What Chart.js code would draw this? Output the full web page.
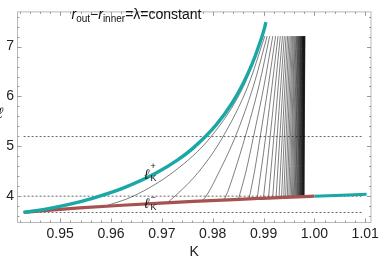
<!DOCTYPE html>
<html><head><meta charset="utf-8">
<script src="https://cdn.jsdelivr.net/npm/chart.js@4.4.1/dist/chart.umd.min.js"></script>
<style>html,body{margin:0;padding:0;background:#fff;overflow:hidden}#wrap{width:382px;height:261px}</style>
</head><body><div id="wrap"><canvas id="c" width="382" height="261"></canvas></div>
<script>
// ---- axis ticks ----
const xTicks = [0.95, 0.96, 0.97, 0.98, 0.99, 1.00, 1.01];
const xTickLabels = ["0.95", "0.96", "0.97", "0.98", "0.99", "1.00", "1.01"];
const yTicks = [4, 5, 6, 7];
const yTickLabels = ["4", "5", "6", "7"];

// ---- dotted reference levels of l ----
const refLevels = [3.674, 4.0, 5.196];
const refKRange = [0.9428, 1.0095];

// ---- l_K^+ (cyan) ----
const plusK = [0.94281, 0.94346, 0.94491, 0.94868, 0.95258, 0.95618, 0.96225, 0.96896, 0.97304, 0.97619, 0.98072, 0.98382, 0.98606, 0.98777, 0.98909, 0.99017, 0.99045];
const plusL = [3.674, 3.683, 3.704, 3.771, 3.857, 3.953, 4.157, 4.469, 4.723, 4.969, 5.435, 5.869, 6.275, 6.657, 7.020, 7.366, 7.490];
// cyan piece beyond K = 1
const plusHighK = [1.0, 1.00663, 1.01027];
const plusHighL = [4.0, 4.026, 4.040];

// ---- l_K^- (brown) ----
const minusK = [0.94281, 0.94388, 0.94868, 0.95382, 0.96225, 0.96974, 0.97619, 0.98416, 0.98885, 0.99410, 1.0];
const minusL = [3.674, 3.685, 3.727, 3.764, 3.818, 3.861, 3.894, 3.932, 3.953, 3.976, 4.0];

// ---- curves r_out - r_inner = lambda = constant ----
// start point on l_K^- ...
const lineStartK = [0.95878, 0.97099, 0.97787, 0.98215, 0.98506, 0.98715, 0.98874, 0.98997, 0.99097, 0.99179,
  0.99246, 0.99304, 0.99354, 0.99397, 0.99434, 0.99467, 0.99496, 0.99523, 0.99547, 0.99568,
  0.99588, 0.99605, 0.99623, 0.99637, 0.99650, 0.99664, 0.99676, 0.99688, 0.99697, 0.99707,
  0.99717, 0.99725, 0.99732, 0.99740, 0.99748, 0.99754, 0.99762, 0.99768, 0.99773, 0.99779,
  0.99783, 0.99789, 0.99793, 0.99799];
const lineStartL = [3.797, 3.867, 3.902, 3.923, 3.936, 3.945, 3.953, 3.958, 3.962, 3.965,
  3.968, 3.971, 3.973, 3.975, 3.976, 3.978, 3.979, 3.980, 3.981, 3.982,
  3.983, 3.983, 3.984, 3.985, 3.985, 3.986, 3.986, 3.987, 3.987, 3.988,
  3.988, 3.988, 3.989, 3.989, 3.989, 3.990, 3.990, 3.990, 3.990, 3.991,
  3.991, 3.991, 3.991, 3.992];
// ... then K of each curve at these levels of l
const lineLevels = [4.0, 4.5, 5.2, 6.2, 7.21];
const lineK = [
  [0.96437, 0.97245, 0.97973, 0.98604, 0.98990],
  [0.97257, 0.97734, 0.98206, 0.98690, 0.99025],
  [0.97871, 0.98132, 0.98448, 0.98798, 0.99071],
  [0.98260, 0.98432, 0.98641, 0.98906, 0.99121],
  [null, 0.98655, 0.98804, 0.99006, 0.99182],
  [null, 0.98823, 0.98935, 0.99091, 0.99236],
  [null, null, 0.99043, null, 0.99285],
  [null, null, 0.99130, null, 0.99330],
  [null, null, 0.99204, null, 0.99372],
  [null, null, 0.99267, null, 0.99409],
  [null, null, 0.99321, null, 0.99443],
  [null, null, 0.99368, null, 0.99473],
  [null, null, 0.99408, null, 0.99500],
  [null, null, 0.99444, null, 0.99525],
  [null, null, 0.99476, null, 0.99547],
  [null, null, 0.99504, null, 0.99568],
  [null, null, 0.99529, null, 0.99586],
  [null, null, 0.99553, null, 0.99605],
  [null, null, 0.99572, null, 0.99621],
  [null, null, 0.99592, null, 0.99637],
  [null, null, 0.99611, null, 0.99650],
  [null, null, 0.99627, null, 0.99664],
  [null, null, 0.99641, null, 0.99676],
  [null, null, 0.99654, null, 0.99686],
  [null, null, 0.99666, null, 0.99695],
  [null, null, 0.99680, null, 0.99705],
  [null, null, 0.99689, null, 0.99715],
  [null, null, 0.99701, null, 0.99723],
  [null, null, 0.99709, null, 0.99732],
  [null, null, 0.99717, null, 0.99738],
  [null, null, 0.99727, null, 0.99746],
  [null, null, 0.99734, null, 0.99754],
  [null, null, 0.99742, null, 0.99760],
  [null, null, 0.99750, null, 0.99766],
  [null, null, 0.99756, null, 0.99771],
  [null, null, 0.99762, null, 0.99777],
  [null, null, 0.99770, null, 0.99783],
  [null, null, 0.99773, null, 0.99787],
  [null, null, 0.99779, null, 0.99793],
  [null, null, 0.99783, null, 0.99797],
  [null, null, 0.99789, null, 0.99801],
  [null, null, 0.99795, null, 0.99807],
  [null, null, 0.99799, null, 0.99811],
  [null, null, 0.99803, null, 0.99813]
];

// ---- styles ----
const CYAN = '#1aa8a7';
const BROWN = '#a65250';
const FONT = "'Liberation Sans', Arial, sans-serif";

function pts(ks, ls) { return ks.map((k, i) => ({ x: k, y: ls[i] })); }

const datasets = [];
datasets.push({ data: pts(plusK, plusL), borderColor: CYAN, borderWidth: 3.4, order: 0, cubicInterpolationMode: 'monotone' });
datasets.push({ data: pts(plusHighK, plusHighL), borderColor: CYAN, borderWidth: 3.0, order: 0 });
datasets.push({ data: pts(minusK, minusL), borderColor: BROWN, borderWidth: 3.2, order: 1, cubicInterpolationMode: 'monotone' });
lineK.forEach((row, i) => {
  const d = [{ x: lineStartK[i], y: lineStartL[i] }];
  row.forEach((k, j) => { if (k !== null && lineLevels[j] > lineStartL[i]) d.push({ x: k, y: lineLevels[j] }); });
  datasets.push({ data: d, borderColor: 'rgba(0,0,0,0.85)', borderWidth: 0.6, order: 5, cubicInterpolationMode: 'monotone' });
});
refLevels.forEach(l => {
  datasets.push({ data: [{ x: refKRange[0], y: l }, { x: refKRange[1], y: l }], borderColor: '#666', borderWidth: 1, borderDash: [2, 2], order: 10 });
});
datasets.forEach(d => { d.showLine = true; d.pointRadius = 0; d.fill = false; });

const frame = {
  id: 'frame',
  afterDraw(chart) {
    const { ctx, chartArea: a } = chart;
    const xs = chart.scales.x, ys = chart.scales.y;
    ctx.save();
    ctx.strokeStyle = '#b8b8b8';
    ctx.lineWidth = 1;
    ctx.strokeRect(a.left, a.top, a.right - a.left, a.bottom - a.top);
    ctx.strokeStyle = '#9a9a9a';
    ctx.beginPath();
    for (let v = 0.942; v <= 1.0111; v += 0.002) {
      const major = xTicks.some(t => Math.abs(t - v) < 1e-6);
      const len = major ? 4 : 2;
      const px = Math.round(xs.getPixelForValue(v)) + 0.5;
      ctx.moveTo(px, a.bottom); ctx.lineTo(px, a.bottom - len);
      ctx.moveTo(px, a.top); ctx.lineTo(px, a.top + len);
    }
    for (let v = 3.6; v <= 7.61; v += 0.2) {
      const major = yTicks.some(t => Math.abs(t - v) < 1e-6);
      const len = major ? 4 : 2;
      const py = Math.round(ys.getPixelForValue(v)) + 0.5;
      ctx.moveTo(a.left, py); ctx.lineTo(a.left + len, py);
      ctx.moveTo(a.right, py); ctx.lineTo(a.right - len, py);
    }
    ctx.stroke();

    ctx.fillStyle = '#111';
    ctx.textBaseline = 'alphabetic';
    ctx.textAlign = 'left';
    const seq = (x, y, parts) => {
      for (const p of parts) {
        ctx.font = p.f;
        ctx.fillText(p.t, x + (p.dx || 0), y + (p.dy || 0));
        x += ctx.measureText(p.t).width + (p.dx || 0);
      }
    };
    const it = 'italic 14px ' + FONT, n14 = '14px ' + FONT, s10 = '10px ' + FONT, s9 = '9px ' + FONT;
    seq(71.5, 18.5, [
      { t: 'r', f: it }, { t: 'out', f: s10, dy: 3.5 }, { t: '\u2212', f: n14 },
      { t: 'r', f: it }, { t: 'inner', f: s10, dy: 3.5 }, { t: '=\u03bb=constant', f: n14 }
    ]);
    ctx.font = it; ctx.fillText('\u2113', 144.5, 179);
    ctx.font = s9; ctx.fillText('+', 150.5, 169);
    ctx.font = s9; ctx.fillText('K', 150.5, 181);
    ctx.font = it; ctx.fillText('\u2113', 144.5, 208);
    ctx.font = s9; ctx.fillText('\u2212', 150.5, 200);
    ctx.font = s9; ctx.fillText('K', 150.5, 210);
    ctx.font = 'italic 15px ' + FONT;
    ctx.textAlign = 'right';
    ctx.fillText('\u2113', 2.5, 118);
    ctx.restore();
  }
};

new Chart(document.getElementById('c'), {
  type: 'scatter',
  data: { datasets },
  options: {
    responsive: false, animation: false, devicePixelRatio: 1,
    layout: { padding: { top: 2.5, right: 8.5, left: 0, bottom: 0 } },
    plugins: { legend: { display: false }, tooltip: { enabled: false } },
    scales: {
      x: {
        type: 'linear', min: 0.941602, max: 1.011133,
        afterBuildTicks: s => { s.ticks = xTicks.map(v => ({ value: v })); },
        afterFit: s => { s.height = 38.5; },
        grid: { display: false, drawTicks: false }, border: { display: false },
        ticks: { callback: (v, i) => xTickLabels[i], font: { size: 14, family: FONT }, color: '#222', padding: 3, maxRotation: 0, autoSkip: false },
        title: { display: true, text: 'K', font: { size: 14, family: FONT }, color: '#222', padding: { top: 0, bottom: 0 } }
      },
      y: {
        type: 'linear', min: 3.4721, max: 7.6955,
        afterBuildTicks: s => { s.ticks = yTicks.map(v => ({ value: v })); },
        afterFit: s => { s.width = 17.5; },
        grid: { display: false, drawTicks: false }, border: { display: false },
        ticks: { callback: (v, i) => yTickLabels[i], font: { size: 14, family: FONT }, color: '#222', padding: 3.5 }
      }
    }
  },
  plugins: [frame]
});
</script>
</body></html>
